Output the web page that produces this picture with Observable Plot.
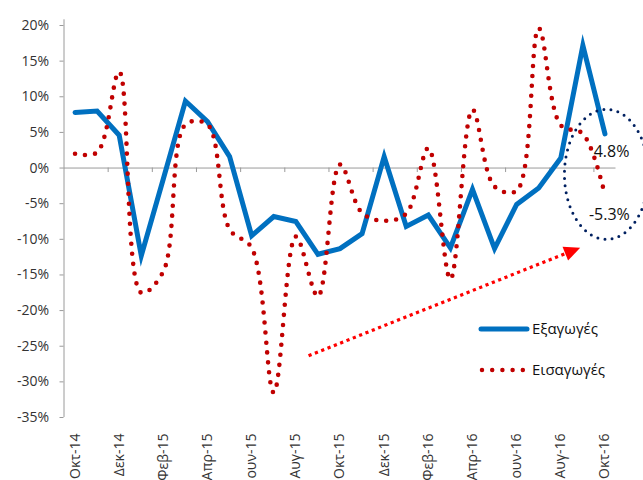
<!DOCTYPE html>
<html>
<head>
<meta charset="utf-8">
<script src="https://cdn.jsdelivr.net/npm/d3@7"></script>
<script src="https://cdn.jsdelivr.net/npm/@observablehq/plot@0.6"></script>
<style>
  html, body { margin: 0; padding: 0; background: #fff; }
  #chart { width: 643px; height: 480px; overflow: hidden; }
</style>
</head>
<body>
<div id="chart"></div>
<script>
// Monthly categories (Oct-14 .. Oct-16)
const months = ["Οκτ-14","Νοε-14","Δεκ-14","Ιαν-15","Φεβ-15","Μαρ-15","Απρ-15","Μαϊ-15","Ιουν-15","Ιουλ-15","Αυγ-15","Σεπ-15","Οκτ-15","Νοε-15","Δεκ-15","Ιαν-16","Φεβ-16","Μαρ-16","Απρ-16","Μαϊ-16","Ιουν-16","Ιουλ-16","Αυγ-16","Σεπ-16","Οκτ-16"];
// Εξαγωγές (exports), % yoy
const exportsVals = [7.8, 8.0, 4.6, -12.3, -1.5, 9.4, 6.5, 1.6, -9.5, -6.8, -7.5, -12.1, -11.3, -9.2, 1.6, -8.2, -6.6, -11.2, -3.0, -11.3, -5.1, -2.8, 1.4, 17.2, 4.8];
// Εισαγωγές (imports), % yoy
const importsVals = [2.0, 2.2, 13.5, -17.5, -14.5, 6.1, 6.1, -8.6, -11.2, -31.5, -9.6, -18.0, 0.5, -6.3, -7.4, -6.4, 2.8, -15.6, 8.2, -2.6, -3.2, 19.6, 6.0, 4.8, -3.8];
// Axis ticks
const yTicks = [20, 15, 10, 5, 0, -5, -10, -15, -20, -25, -30, -35];
const xLabelIdx = [0, 2, 4, 6, 8, 10, 12, 14, 16, 18, 20, 22, 24];
const xTickBounds = [1.5, 3.5, 5.5, 7.5, 9.5, 11.5, 13.5, 15.5, 17.5, 19.5, 21.5, 23.5];
// Annotations
const seriesNames = ["Εξαγωγές", "Εισαγωγές"];
const calloutTexts = [{idx: 24.3, v: 2.2, label: "4.8%"}, {idx: 24.2, v: -6.6, label: "-5.3%"}];
const arrowFrom = {idx: 10.6, v: -26.4};
const arrowTo = {idx: 22.9, v: -11.25};
const ellipseCenter = {idx: 24.09, v: -0.95};

const expData = exportsVals.map((v, i) => ({i, v}));
const impData = importsVals.map((v, i) => ({i, v}));

const FONT = "'Open Sans', 'Noto Sans', sans-serif";
const axisGray = "#9a9a9a";
const pxPerIdx = (615.5 - 63.5) / 25;
const pxPerPct = (417 - 25) / 55;

function annotations(index, scales, values, dimensions) {
  const x = scales.x, y = scales.y;
  const g = d3.create("svg:g");
  // dotted ellipse
  g.append("ellipse")
    .attr("cx", x(ellipseCenter.idx)).attr("cy", y(ellipseCenter.v))
    .attr("rx", 42).attr("ry", 65)
    .attr("fill", "none").attr("stroke", "#002060")
    .attr("stroke-width", 3).attr("stroke-dasharray", "0,7.2")
    .attr("stroke-linecap", "round");
  // dotted trend arrow
  const x1 = x(arrowFrom.idx), y1 = y(arrowFrom.v), x2 = x(arrowTo.idx), y2 = y(arrowTo.v);
  const ang = Math.atan2(y2 - y1, x2 - x1);
  const L = 16, hw = 7.5;
  const bx = x2 - L * Math.cos(ang), by = y2 - L * Math.sin(ang);
  g.append("line")
    .attr("x1", x1).attr("y1", y1).attr("x2", bx).attr("y2", by)
    .attr("stroke", "#ff0000").attr("stroke-width", 3.2)
    .attr("stroke-dasharray", "3.2,3.6");
  const px = -Math.sin(ang), py = Math.cos(ang);
  g.append("path")
    .attr("d", `M${x2},${y2}L${bx + hw * px},${by + hw * py}L${bx - hw * px},${by - hw * py}Z`)
    .attr("fill", "#ff0000");
  // legend
  const lg = g.append("g").attr("font-family", FONT).attr("font-size", 15)
    .attr("fill", "#111").attr("text-anchor", "start");
  lg.append("line").attr("x1", 481).attr("x2", 527).attr("y1", 329).attr("y2", 329)
    .attr("stroke", "#0070c0").attr("stroke-width", 5).attr("stroke-linecap", "round");
  lg.append("text").attr("x", 532).attr("y", 329).attr("dy", "0.35em").text(seriesNames[0]);
  lg.append("line").attr("x1", 482).attr("x2", 523).attr("y1", 370).attr("y2", 370)
    .attr("stroke", "#c00000").attr("stroke-width", 4.5).attr("stroke-linecap", "round")
    .attr("stroke-dasharray", "0,10.2");
  lg.append("text").attr("x", 532).attr("y", 370).attr("dy", "0.35em").text(seriesNames[1]);
  return g.node();
}

const chart = Plot.plot({
  width: 643,
  height: 480,
  marginTop: 25,
  marginBottom: 63,
  marginLeft: 63.5,
  marginRight: 27.5,
  x: {domain: [-0.5, 24.5], axis: null},
  y: {domain: [-35, 20], axis: null},
  style: {fontFamily: FONT, fontSize: "14px", color: "#333", background: "#fff", overflow: "visible"},
  marks: [
    Plot.ruleY([0], {x1: -0.5, x2: 24.5, stroke: axisGray, strokeWidth: 1}),
    Plot.ruleX([-0.5], {y1: -35, y2: 20.8, stroke: axisGray, strokeWidth: 1}),
    Plot.ruleY(yTicks, {y: d => d, x1: -0.5 - 4 / pxPerIdx, x2: -0.5, stroke: axisGray}),
    Plot.ruleX(xTickBounds, {x: d => d, y1: 0, y2: -4.5 / pxPerPct, stroke: axisGray}),
    Plot.text(yTicks, {x: -0.5, y: d => d, text: d => d + "%", textAnchor: "end", dx: -15, fill: "#333", fontSize: 14}),
    Plot.text(xLabelIdx, {x: d => d, y: -35, text: d => months[d], rotate: -90, textAnchor: "end", dy: 16, fill: "#333", fontSize: 14}),
    Plot.line(expData, {x: "i", y: "v", stroke: "#0070c0", strokeWidth: 5, strokeLinejoin: "miter", strokeMiterlimit: 6, strokeLinecap: "round"}),
    Plot.line(impData, {x: "i", y: "v", stroke: "#c00000", strokeWidth: 4.6, curve: "catmull-rom", strokeDasharray: "0,10", strokeLinecap: "round"}),
    Plot.text(calloutTexts, {x: "idx", y: "v", text: "label", fill: "#111", fontSize: 16}),
    annotations
  ]
});
document.getElementById("chart").appendChild(chart);
</script>
</body>
</html>
